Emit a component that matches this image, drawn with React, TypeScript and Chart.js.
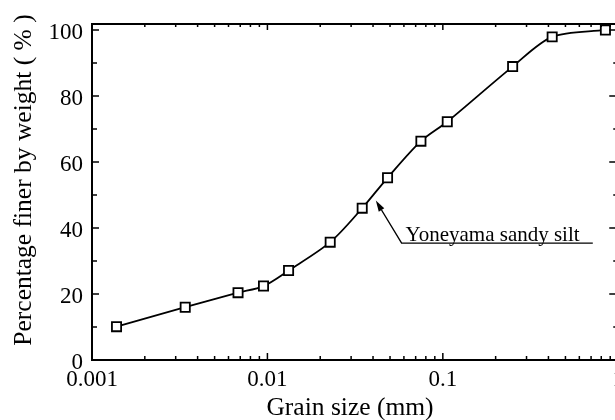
import React, { useEffect, useRef } from "react";
import { Chart, registerables } from "chart.js";

Chart.register(...registerables);

// ---- data ----
const grainSize = [0.00138, 0.0034, 0.0068, 0.0095, 0.0132, 0.0228, 0.0347, 0.0484, 0.075, 0.106, 0.25, 0.42, 0.845];
const percentFiner = [10.1, 16.0, 20.4, 22.4, 27.1, 35.7, 46.0, 55.2, 66.3, 72.2, 88.9, 97.9, 100.0];

const xDecadeTicks = [0.001, 0.01, 0.1, 1];
const xTickLabels = ["0.001", "0.01", "0.1", "1"];
const xMinorMultipliers = [2, 3, 4, 5, 6, 7, 8, 9];
const yMajorTicks = [0, 20, 40, 60, 80, 100];
const yTickLabels = ["0", "20", "40", "60", "80", "100"];
const yMinorTicks = [10, 30, 50, 70, 90];

const xTitle = "Grain size (mm)";
const yTitle = "Percentage finer by weight ( % )";
const seriesLabel = "Yoneyama sandy silt";

// annotation anchors in data units [grain size, percent]
const labelArrowTip = [0.0415, 48.3];
const labelElbow = [0.0582, 35.4];
const labelLineEnd = [0.716, 35.4];

const FONT = '"Liberation Serif", "Times New Roman", serif';

const axesPlugin = {
  id: "customAxes",
  afterDraw(chart: any) {
    const ctx = chart.ctx;
    const { left, right, top, bottom } = chart.chartArea;
    const xs = chart.scales.x;
    const ys = chart.scales.y;
    ctx.save();
    ctx.strokeStyle = "#000";
    ctx.fillStyle = "#000";
    // frame (left, top, bottom)
    ctx.lineWidth = 2;
    ctx.beginPath();
    ctx.moveTo(left, bottom);
    ctx.lineTo(left, top);
    ctx.moveTo(left - 1, top);
    ctx.lineTo(right + 2, top);
    ctx.moveTo(left - 1, bottom);
    ctx.lineTo(right + 2, bottom);
    ctx.stroke();

    ctx.lineWidth = 1.5;
    ctx.beginPath();
    // y ticks
    yMajorTicks.forEach((v) => {
      const y = ys.getPixelForValue(v);
      ctx.moveTo(left, y);
      ctx.lineTo(left + 7, y);
      ctx.moveTo(right, y);
      ctx.lineTo(right - 9, y);
    });
    yMinorTicks.forEach((v) => {
      const y = ys.getPixelForValue(v);
      ctx.moveTo(left, y);
      ctx.lineTo(left + 5, y);
      ctx.moveTo(right, y);
      ctx.lineTo(right - 5, y);
    });
    // x ticks
    xDecadeTicks.forEach((d, i) => {
      const x = xs.getPixelForValue(d);
      ctx.moveTo(x, bottom);
      ctx.lineTo(x, bottom - 7);
      ctx.moveTo(x, top);
      ctx.lineTo(x, top + 6);
      if (i < xDecadeTicks.length - 1) {
        xMinorMultipliers.forEach((m) => {
          const xm = xs.getPixelForValue(d * m);
          ctx.moveTo(xm, bottom);
          ctx.lineTo(xm, bottom - 4);
          ctx.moveTo(xm, top);
          ctx.lineTo(xm, top + 3);
        });
      }
    });
    ctx.stroke();

    // annotation
    const tx = xs.getPixelForValue(labelArrowTip[0]);
    const ty = ys.getPixelForValue(labelArrowTip[1]);
    const ex = xs.getPixelForValue(labelElbow[0]);
    const ey = ys.getPixelForValue(labelElbow[1]);
    const lx = xs.getPixelForValue(labelLineEnd[0]);
    ctx.lineWidth = 1.4;
    ctx.beginPath();
    ctx.moveTo(lx, ey);
    ctx.lineTo(ex, ey);
    const ang = Math.atan2(ty - ey, tx - ex);
    const headLen = 11;
    const bx = tx - Math.cos(ang) * headLen;
    const by = ty - Math.sin(ang) * headLen;
    ctx.lineTo(bx, by);
    ctx.stroke();
    ctx.beginPath();
    ctx.moveTo(tx, ty);
    ctx.lineTo(bx + Math.sin(ang) * 3.2, by - Math.cos(ang) * 3.2);
    ctx.lineTo(bx - Math.sin(ang) * 3.2, by + Math.cos(ang) * 3.2);
    ctx.closePath();
    ctx.fill();

    ctx.font = `21px ${FONT}`;
    ctx.textAlign = "left";
    ctx.textBaseline = "alphabetic";
    ctx.fillText(seriesLabel, ex + 4, ey - 2);

    // titles
    ctx.font = `25.5px ${FONT}`;
    ctx.textAlign = "center";
    ctx.textBaseline = "middle";
    ctx.fillText(xTitle, 350, 408);
    ctx.translate(24, 180);
    ctx.rotate(-Math.PI / 2);
    ctx.fillText(yTitle, 0, 0);
    ctx.restore();
  },
};

export default function App() {
  const canvasRef = useRef<HTMLCanvasElement | null>(null);

  useEffect(() => {
    const canvas = canvasRef.current;
    if (!canvas) return;
    const points = grainSize.map((g, i) => ({ x: g, y: percentFiner[i] }));
    const chart = new Chart(canvas, {
      type: "line",
      data: {
        datasets: [
          {
            label: seriesLabel,
            data: points,
            borderColor: "#000",
            borderWidth: 1.8,
            tension: 0.3,
            pointStyle: "rect",
            pointRadius: 6.5,
            pointBorderWidth: 1.8,
            pointBackgroundColor: "#fff",
            pointBorderColor: "#000",
            fill: false,
          },
          {
            label: "centre",
            data: points,
            showLine: false,
            pointStyle: "rect",
            pointRadius: 1,
            pointBorderWidth: 0,
            pointBackgroundColor: "#000",
            borderColor: "#000",
          },
        ],
      },
      options: {
        responsive: false,
        animation: false,
        events: [],
        layout: { padding: { left: 0, top: 24, right: 11.5, bottom: 0 } },
        plugins: { legend: { display: false }, tooltip: { enabled: false } },
        scales: {
          x: {
            type: "logarithmic",
            min: 0.001,
            max: 1,
            grid: { display: false, drawTicks: false },
            border: { display: false },
            afterFit: (s: any) => {
              s.height = 60;
            },
            afterBuildTicks: (s: any) => {
              s.ticks = xDecadeTicks.map((v) => ({ value: v }));
            },
            ticks: {
              autoSkip: false,
              maxRotation: 0,
              color: "#000",
              padding: 6,
              font: { family: FONT, size: 23 },
              callback: (_v: any, i: number) => xTickLabels[i],
            },
          },
          y: {
            type: "linear",
            min: 0,
            max: 101.8,
            grid: { display: false, drawTicks: false },
            border: { display: false },
            afterFit: (s: any) => {
              s.width = 92;
            },
            afterBuildTicks: (s: any) => {
              s.ticks = yMajorTicks.map((v) => ({ value: v }));
            },
            ticks: {
              autoSkip: false,
              color: "#000",
              padding: 9,
              labelOffset: 3,
              font: { family: FONT, size: 23 },
              callback: (_v: any, i: number) => yTickLabels[i],
            },
          },
        },
      },
      plugins: [axesPlugin],
    } as any);
    return () => chart.destroy();
  }, []);

  return (
    <div
      style={{
        position: "absolute",
        left: 0,
        top: 0,
        width: 615,
        height: 420,
        overflow: "hidden",
        background: "#fff",
      }}
    >
      <canvas ref={canvasRef} width={630} height={420} style={{ display: "block" }} />
    </div>
  );
}
